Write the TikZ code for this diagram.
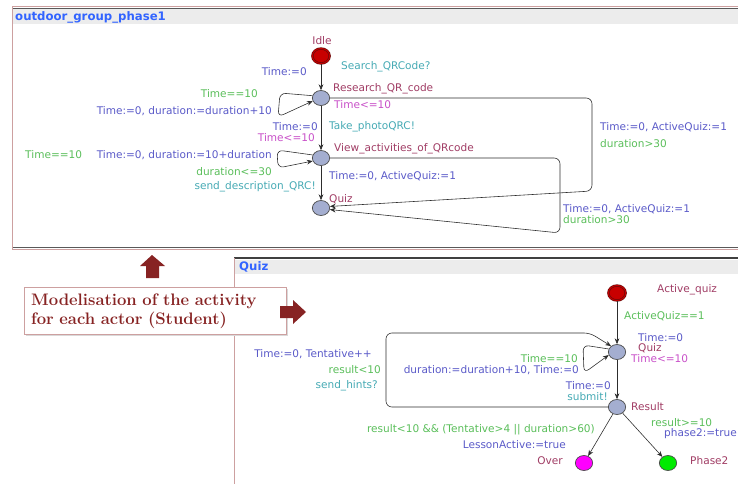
\documentclass[tikz,border=0pt]{standalone}
\usepackage{fontspec}
\setsansfont{DejaVu Sans}
\usepackage{xcolor}
\usepackage{tikz}
\usetikzlibrary{positioning,shapes.geometric,arrows.meta,calc}

\definecolor{locfill}{RGB}{164,174,208}
\definecolor{initred}{RGB}{200,0,0}
\definecolor{initrim}{RGB}{110,10,10}
\definecolor{namecol}{RGB}{160,60,100}
\definecolor{invcol}{RGB}{200,80,200}
\definecolor{synccol}{RGB}{70,170,180}
\definecolor{guardcol}{RGB}{90,190,90}
\definecolor{asgcol}{RGB}{90,90,200}
\definecolor{titlecol}{RGB}{50,100,255}
\definecolor{framepink}{RGB}{205,160,160}
\definecolor{arrowred}{RGB}{135,35,35}
\definecolor{overfill}{RGB}{255,0,255}
\definecolor{phasefill}{RGB}{0,235,0}

\begin{document}
\begin{tikzpicture}[x=0.03cm, y=-0.03cm,
  loc/.style={ellipse, draw=gray!60!black, fill=locfill, line width=0.6pt,
              minimum width=0.52cm, minimum height=0.45cm, inner sep=0pt},
  initloc/.style={loc, fill=initred, draw=initrim, double=initred, double distance=0.8pt},
  lbl/.style={font=\sffamily\fontsize{9}{10}\selectfont, inner sep=0pt},
  nm/.style={lbl, text=namecol},
  inv/.style={lbl, text=invcol},
  sync/.style={lbl, text=synccol},
  guard/.style={lbl, text=guardcol},
  asg/.style={lbl, text=asgcol},
  title/.style={font=\sffamily\bfseries\fontsize{10}{11}\selectfont, text=titlecol, inner sep=0pt},
  trans/.style={-{Stealth[length=5pt,width=4pt]}, draw=gray!35!black, line width=0.5pt, rounded corners=5pt},
  notebox/.style={rectangle, draw=framepink, fill=white, line width=0.8pt,
                  minimum width=7.86cm, minimum height=1.41cm, inner xsep=0.2cm,
                  text width=7.46cm, align=left,
                  font=\bfseries\fontsize{14.2}{16.3}\selectfont, text=arrowred}
]
\useasboundingbox (0,0) rectangle (738,484);

% frame of the first template
\fill[gray!15] (13,9) rectangle (738,24);
\draw[framepink, line width=0.8pt] (738,6) -- (12,6) -- (12,249) -- (738,249);
\draw[gray!70!black, line width=0.6pt] (738,8) -- (13,8);
\draw[gray!70!black, line width=0.6pt] (13,247.5) -- (738,247.5);
\node[title, anchor=west] (tphase) at (15,17) {outdoor\_group\_phase1};

% outdoor_group_phase1
\node[initloc] (idle) at (321,56) {};
\node[loc] (research) at (321,98) {};
\node[loc] (view) at (321,158) {};
\node[loc] (quiz) at (321,208) {};

\node[nm] (nidle) at (322,41) {Idle};
\node[nm, anchor=west] (nresearch) at (333,89) {Research\_QR\_code};
\node[inv, anchor=west] (iresearch) at (334,105) {Time<=10};
\node[nm, anchor=west] (nview) at (334,149) {View\_activities\_of\_QRcode};
\node[nm, anchor=west] (nquiz) at (329,199) {Quiz};

\draw[trans] (idle) -- (research);
\node[sync, anchor=west] (s1) at (341,67) {Search\_QRCode?};
\node[asg, anchor=east] (a1) at (307,72) {Time:=0};

\draw[trans] (research.165) -- (280,93) -- (278,117) -- (research.200);
\node[guard, anchor=east] (g2) at (258,94) {Time==10};
\node[asg, anchor=east] (a2) at (272,111) {Time:=0, duration:=duration+10};

\draw[trans] (research) -- (view);
\node[asg, anchor=east] (a3) at (318,127) {Time:=0};
\node[sync, anchor=west] (s3) at (329,127) {Take\_photoQRC!};
\node[inv, anchor=east] (i3) at (315,138) {Time<=10};

\draw[trans] (view.160) -- (277,150) -- (278,168) -- (view.200);
\node[guard, anchor=west] (g4) at (25,155) {Time==10};
\node[asg, anchor=east] (a4) at (272,155) {Time:=0, duration:=10+duration};

\draw[trans] (view) -- (quiz);
\node[guard, anchor=east] (g5) at (272,172) {duration<=30};
\node[sync, anchor=east] (s5) at (316,187) {send\_description\_QRC!};
\node[asg, anchor=west] (a5) at (329,176) {Time:=0, ActiveQuiz:=1};

\draw[trans] (research.east) -- (592,98) -- (592,191) -- (quiz.10);
\node[asg, anchor=west] (a6) at (600,127) {Time:=0, ActiveQuiz:=1};
\node[guard, anchor=west] (g6) at (600,144) {duration>30};

\draw[trans] (view.east) -- (560,158) -- (560,233) -- (quiz.-10);
\node[asg, anchor=west] (a7) at (563,209) {Time:=0, ActiveQuiz:=1};
\node[guard, anchor=west] (g7) at (563,220) {duration>30};

% frame of the Quiz template
\fill[gray!15] (235,260) rectangle (738,274);
\draw[gray!50!black, line width=1pt] (234,258) -- (738,258);
\draw[framepink, line width=0.8pt] (234,257.5) -- (234,484);
\node[title, anchor=west] (tquiz) at (239,267) {Quiz};

% note and block arrows
\fill[arrowred] (152,255) -- (165,266) -- (159,266) -- (159,278) -- (146,278) -- (146,266) -- (140,266) -- cycle;
\fill[gray!30] (26,289) rectangle (288,336);
\node[notebox, anchor=north west] (note) at (24,287) {Modelisation of the activity\\for each actor (Student)};
\fill[arrowred] (306,312) -- (293,300) -- (293,306) -- (280,306) -- (280,318) -- (293,318) -- (293,324) -- cycle;

% Quiz
\node[initloc] (active) at (617,293) {};
\node[loc] (qquiz) at (617,352) {};
\node[loc] (result) at (617,407) {};
\node[loc, fill=overfill] (over) at (584,463) {};
\node[loc, fill=phasefill] (phase) at (668,463) {};

\node[nm, anchor=west] (nactive) at (657,290) {Active\_quiz};
\node[asg, anchor=west] (aq) at (638,338) {Time:=0};
\node[nm, anchor=west] (nqquiz) at (638,348) {Quiz};
\node[inv, anchor=west] (iqquiz) at (631,359) {Time<=10};
\node[nm, anchor=west] (nresult) at (631,407) {Result};
\node[nm, anchor=east] (nover) at (563,461) {Over};
\node[nm, anchor=west] (nphase) at (690,461) {Phase2};

\draw[trans] (active) -- (qquiz);
\node[guard, anchor=west] (g8) at (624,316) {ActiveQuiz==1};

\draw[trans] (qquiz.160) -- (583,345) -- (584,373) -- (qquiz.200);
\node[guard, anchor=east] (g9) at (578,359) {Time==10};
\node[asg, anchor=east] (a9) at (579,370) {duration:=duration+10, Time:=0};

\draw[trans] (qquiz) -- (result);
\node[asg, anchor=east] (a10) at (611,386) {Time:=0};
\node[sync, anchor=east] (s10) at (608,397) {submit!};

\draw[trans] (result.west) -- (386,407) -- (386,333) -- (590,333) -- (qquiz.135);
\node[asg, anchor=east] (a11) at (372,354) {Time:=0, Tentative++};
\node[guard, anchor=east] (g11) at (381,370) {result<10};
\node[sync, anchor=east] (s11) at (378,386) {send\_hints?};

\draw[trans] (result) -- (over);
\node[guard, anchor=east] (g12) at (595,430) {result<10 \&\& (Tentative>4 || duration>60)};
\node[asg, anchor=east] (a12) at (566,445) {LessonActive:=true};

\draw[trans] (result) -- (phase);
\node[guard, anchor=west] (g13) at (651,423) {result>=10};
\node[asg, anchor=west] (a13) at (664,434) {phase2:=true};

\end{tikzpicture}
\end{document}
